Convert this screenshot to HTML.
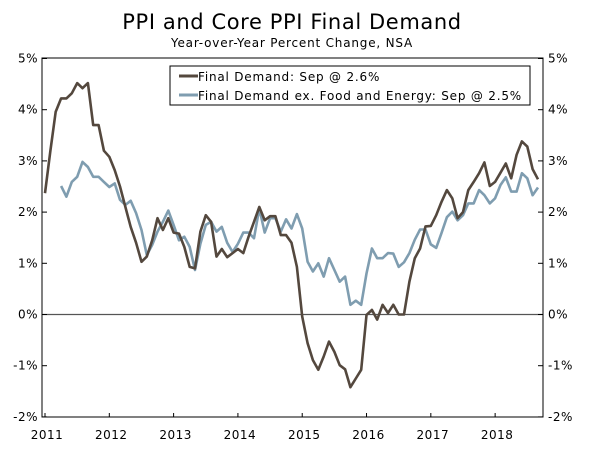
<!DOCTYPE html>
<html><head><meta charset="utf-8"><style>
body{margin:0;background:#fff;width:600px;height:452px;overflow:hidden;font-family:"DejaVu Sans","Liberation Sans",sans-serif}
</style></head><body>
<svg width="600" height="452" xmlns="http://www.w3.org/2000/svg" id="chart">
<text x="292" y="29" text-anchor="middle" font-size="21" letter-spacing="0.6" fill="#000">PPI and Core PPI Final Demand</text>
<text x="292" y="47" text-anchor="middle" font-size="12" letter-spacing="0.8" fill="#000">Year-over-Year Percent Change, NSA</text>
<g id="axes"></g>
<g id="series"></g>
<g>
<rect x="170" y="66" width="360" height="39" fill="#fff" stroke="#000" stroke-width="1"/>
<line x1="179" y1="76" x2="198" y2="76" stroke="#54483e" stroke-width="3"/>
<text x="198" y="81" font-size="12" letter-spacing="0.8">Final Demand: Sep @ 2.6%</text>
<line x1="179" y1="95" x2="198" y2="95" stroke="#7f9db0" stroke-width="3"/>
<text x="198" y="100" font-size="12" letter-spacing="0.8">Final Demand ex. Food and Energy: Sep @ 2.5%</text>
</g>
</svg>
<script>
const years = ["2011","2012","2013","2014","2015","2016","2017","2018"];
const yTicks = [5,4,3,2,1,0,-1,-2];
const finalDemand = [2.37,3.2,3.96,4.22,4.22,4.32,4.52,4.42,4.52,3.7,3.7,3.2,3.08,2.82,2.5,2.1,1.71,1.4,1.03,1.13,1.45,1.88,1.65,1.88,1.6,1.58,1.32,0.93,0.9,1.62,1.94,1.81,1.13,1.28,1.12,1.2,1.28,1.2,1.52,1.81,2.1,1.84,1.92,1.92,1.55,
1.55,1.40,0.93,-0.04,-0.56,-0.89,-1.08,-0.82,-0.53,-0.73,-0.99,-1.07,-1.42,-1.25,-1.08,-0.01,0.09,-0.1,0.19,0.03,0.19,0,0,0.64,1.1,1.29,1.72,1.73,1.94,2.2,2.43,2.27,1.88,2.0,2.43,2.59,2.76,2.97,2.51,2.59,2.77,2.95,2.66,3.12,3.38,3.28,2.84,2.64];
const coreDemand = [2.51,2.3,2.59,2.69,2.98,2.88,2.69,2.69,2.59,2.49,2.56,2.24,2.14,2.22,1.98,1.65,1.16,1.36,1.62,1.81,2.03,1.75,1.45,1.52,1.32,0.87,1.38,1.75,1.81,1.62,1.71,1.4,1.22,1.38,1.6,1.6,1.49,2.07,1.6,1.88,1.88,1.62,
1.86,1.68,1.96,1.68,1.03,0.84,1.0,0.74,1.1,0.87,0.64,0.74,0.19,0.27,0.19,0.8,1.29,1.1,1.1,1.2,1.19,0.93,1.02,1.2,1.46,1.66,1.66,1.37,1.3,1.59,1.9,2.01,1.84,1.94,2.17,2.17,2.43,2.33,2.17,2.27,2.53,2.68,2.4,2.4,2.76,2.66,2.33,2.48];
const NS="http://www.w3.org/2000/svg";
const L=42,R=543,T=58,B=417;
const nMonths=finalDemand.length;
function xS(i){return 45+i*(538-45)/(nMonths-1);}
function yS(v){return 314.5-v*51.2;}
function mk(tag,attrs,parent){const e=document.createElementNS(NS,tag);for(const k in attrs)e.setAttribute(k,attrs[k]);parent.appendChild(e);return e;}
const ax=document.getElementById('axes');
const frame=mk('rect',{x:L,y:T,width:R-L,height:B-T,fill:'none',stroke:'#000','stroke-width':1},ax);


const zl=mk('line',{x1:L,x2:R,y1:yS(0),y2:yS(0),stroke:'#555','stroke-width':1.2},ax);


yTicks.forEach(v=>{
 const y=yS(v);
 mk('line',{x1:L,x2:L+5,y1:y,y2:y,stroke:'#000'},ax);
 mk('line',{x1:R-5,x2:R,y1:y,y2:y,stroke:'#000'},ax);
 const t1=mk('text',{x:L-4,y:y+4,'text-anchor':'end','font-size':12,'letter-spacing':0.5},ax);t1.textContent=v+'%';
 
 
 const t2=mk('text',{x:R+5,y:y+4,'font-size':12,'letter-spacing':0.5},ax);t2.textContent=v+'%';
 
 
});
years.forEach((yr,k)=>{
 const x=xS(k*12);
 mk('line',{x1:x,x2:x,y1:B,y2:B-4,stroke:'#000'},ax);
 const t=mk('text',{x:x+2,y:B+22,'text-anchor':'middle','font-size':12,'letter-spacing':0.5},ax);t.textContent=yr;
 
 
});
const sg=document.getElementById('series');
function line(data,off,color,name){
 const pts=data.map((v,i)=>xS(i+off).toFixed(1)+','+yS(v).toFixed(1)).join(' ');
 const p=mk('polyline',{points:pts,fill:'none',stroke:color,'stroke-width':2.6,'stroke-linejoin':'round'},sg);
 
 
}
line(coreDemand,nMonths-coreDemand.length,'#7f9db0','core-ppi-line');
line(finalDemand,0,'#54483e','final-demand-line');
</script>
</body></html>
